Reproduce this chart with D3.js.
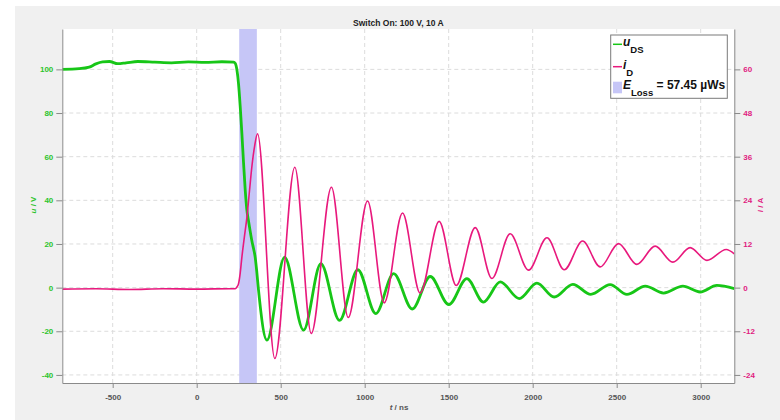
<!DOCTYPE html>
<html>
<head>
<meta charset="utf-8">
<script src="https://cdn.jsdelivr.net/npm/d3@7"></script>
<style>
  html, body { margin: 0; padding: 0; background: #ffffff; }
  svg { display: block; font-family: "Liberation Sans", Arial, Helvetica, sans-serif; }
</style>
</head>
<body>
<svg id="chart" width="780" height="420"></svg>
<script>
// ---------- data ----------
const title = "Switch On: 100 V, 10 A";
const xTicks = [-500, 0, 500, 1000, 1500, 2000, 2500, 3000];
const uTicks = [-40, -20, 0, 20, 40, 60, 80, 100];
const iTicks = [-24, -12, 0, 12, 24, 36, 48, 60];
const xDomain = [-800, 3200];
const uDomain = [-43.7, 118.5];
const iDomain = [-26.22, 71.1];
const lossWindow = [253, 358];      // ns
const lossText = "= 57.45 µWs";

// u_DS (V) vs t (ns)
const uTime = [-800, -700, -640, -600, -560, -520, -470, -420, -350, -250, -150, -50, 50, 150, 220, 229, 240, 249, 259, 269, 279, 289, 298, 308, 318, 328, 338, 348, 358, 368, 418,
  523, 636, 739, 850, 959, 1066, 1172, 1283, 1390, 1501, 1608, 1707, 1807, 1920, 2025, 2128, 2239, 2346, 2461, 2561, 2670, 2779, 2894, 2997, 3096, 3200];
const uValue = [100.0, 100.3, 101.0, 102.5, 103.4, 103.6, 102.6, 103.0, 103.6, 103.3, 103.0, 103.4, 103.2, 103.5, 103.3, 102.8, 99.5, 93.4, 83.0, 70.5, 57.0, 44.5, 36.0, 30.8, 26.0, 21.6, 18.0, 14.0, 7.0, -1.2, -24.1,
  14.0, -19.5, 11.0, -15.0, 8.2, -11.9, 6.4, -9.8, 5.1, -7.8, 4.1, -6.6, 2.6, -5.0, 2.1, -4.3, 1.5, -3.1, 1.4, -3.1, 0.7, -2.5, 0.7, -2.0, 1.0, -0.5];

// i_D (A) vs t (ns)
const iTime = [-800, -600, -400, -200, 0, 200, 229, 240, 249, 259, 269, 284, 299, 314, 328, 345, 362,
  465, 584, 682, 802, 902, 1017, 1116, 1225, 1330, 1443, 1545, 1658, 1757, 1866, 1975, 2085, 2188, 2297, 2402, 2511, 2620, 2729, 2834, 2937, 3037, 3152, 3200];
const iValue = [-0.4, -0.3, -0.5, -0.3, -0.4, -0.3, -0.3, 0.2, 1.1, 4.0, 8.4, 14.0, 19.4, 26.5, 33.1, 39.0, 42.3,
  -19.5, 33.1, -12.6, 27.6, -8.2, 23.8, -4.2, 20.5, -1.5, 18.2, 0.6, 16.5, 2.5, 14.8, 4.8, 13.7, 4.9, 12.8, 5.7, 12.1, 6.4, 11.4, 7.0, 11.0, 7.5, 10.5, 9.3];

// ---------- layout ----------
const svg = d3.select("#chart");
const L = 62.3, R = 734.3, T = 29, B = 383;
const green = "#17c617", pink = "#e8197d";
const greenTxt = "#2cc42c", pinkTxt = "#e0207f";
const shade = "#c6c6f7";

svg.append("rect").attr("x", 15).attr("y", 6).attr("width", 765).attr("height", 414).attr("fill", "#f0f0f0");
svg.append("rect").attr("x", L).attr("y", T).attr("width", R - L).attr("height", B - T).attr("fill", "#ffffff");

const x = d3.scaleLinear().domain(xDomain).range([L, R]);
const yU = d3.scaleLinear().domain(uDomain).range([B, T]);
const yI = d3.scaleLinear().domain(iDomain).range([B, T]);

// grid
const grid = svg.append("g").attr("stroke", "#dcdcdc").attr("stroke-width", 1).attr("stroke-dasharray", "4,3");
grid.selectAll("line.gx").data(xTicks).join("line").attr("class", "gx")
  .attr("x1", d => x(d)).attr("x2", d => x(d)).attr("y1", T).attr("y2", B);
grid.selectAll("line.gy").data(uTicks).join("line").attr("class", "gy")
  .attr("x1", L).attr("x2", R).attr("y1", d => yU(d)).attr("y2", d => yU(d));

// loss window
svg.append("rect").attr("x", x(lossWindow[0])).attr("y", T)
  .attr("width", x(lossWindow[1]) - x(lossWindow[0])).attr("height", B - T).attr("fill", shade);

// clip
svg.append("clipPath").attr("id", "clip").append("rect").attr("x", L).attr("y", T).attr("width", R - L).attr("height", B - T);

const uData = uTime.map((t, k) => [t, uValue[k]]);
const iData = iTime.map((t, k) => [t, iValue[k]]);

const lineU = d3.line().x(d => x(d[0])).y(d => yU(d[1])).curve(d3.curveMonotoneX);
const lineI = d3.line().x(d => x(d[0])).y(d => yI(d[1])).curve(d3.curveMonotoneX);

const plot = svg.append("g").attr("clip-path", "url(#clip)");
plot.append("path").datum(uData).attr("d", lineU).attr("fill", "none").attr("stroke", green).attr("stroke-width", 2.8).attr("stroke-linejoin", "round");
plot.append("path").datum(iData).attr("d", lineI).attr("fill", "none").attr("stroke", pink).attr("stroke-width", 1.6).attr("stroke-linejoin", "round");

// axes
const axisColor = "#8a8a8a";
const fmt = d => String(d);
function styleAxis(g, color) {
  g.select(".domain").attr("stroke", axisColor);
  g.selectAll(".tick line").attr("stroke", axisColor);
  g.selectAll(".tick text").attr("fill", color).attr("font-size", 8).attr("font-weight", "bold")
    .attr("font-family", "'Liberation Sans', Arial, sans-serif");
}
const gx = svg.append("g").attr("transform", `translate(0,${B})`)
  .call(d3.axisBottom(x).tickValues(xTicks).tickFormat(fmt).tickSize(5).tickSizeOuter(0).tickPadding(6));
styleAxis(gx, "#555555");
const gl = svg.append("g").attr("transform", `translate(${L},0)`)
  .call(d3.axisLeft(yU).tickValues(uTicks).tickFormat(fmt).tickSize(6).tickSizeOuter(0).tickPadding(3));
styleAxis(gl, greenTxt);
const gr = svg.append("g").attr("transform", `translate(${R},0)`)
  .call(d3.axisRight(yI).tickValues(iTicks).tickFormat(fmt).tickSize(6).tickSizeOuter(0).tickPadding(3));
styleAxis(gr, pinkTxt);

// labels
svg.append("text").attr("x", (L + R) / 2).attr("y", 26).attr("text-anchor", "middle")
  .attr("font-size", 8.5).attr("font-weight", "bold").attr("fill", "#222").text(title);

const xl = svg.append("text").attr("x", 399).attr("y", 410).attr("text-anchor", "middle")
  .attr("font-size", 8).attr("font-weight", "bold").attr("fill", "#555");
xl.append("tspan").attr("font-style", "italic").text("t");
xl.append("tspan").text(" / ns");

const ylab = svg.append("text").attr("transform", "translate(36,205) rotate(-90)").attr("text-anchor", "middle")
  .attr("font-size", 8).attr("font-weight", "bold").attr("fill", greenTxt);
ylab.append("tspan").attr("font-style", "italic").text("u");
ylab.append("tspan").text(" / V");

const ylab2 = svg.append("text").attr("transform", "translate(763,205) rotate(-90)").attr("text-anchor", "middle")
  .attr("font-size", 8).attr("font-weight", "bold").attr("fill", pinkTxt);
ylab2.append("tspan").attr("font-style", "italic").text("i");
ylab2.append("tspan").text(" / A");

// legend
const lg = svg.append("g");
lg.append("rect").attr("x", 610.7).attr("y", 35).attr("width", 116.6).attr("height", 63.3)
  .attr("fill", "#ffffff").attr("stroke", "#7a7a7a").attr("stroke-width", 1);
lg.append("line").attr("x1", 613).attr("x2", 622).attr("y1", 44.3).attr("y2", 44.3).attr("stroke", green).attr("stroke-width", 1.5);
lg.append("line").attr("x1", 613).attr("x2", 622).attr("y1", 66.7).attr("y2", 66.7).attr("stroke", pink).attr("stroke-width", 1.5);
lg.append("rect").attr("x", 613).attr("y", 81.7).attr("width", 9).attr("height", 11.6).attr("fill", shade);

function legendText(y, main, sub, rest) {
  const t = lg.append("text").attr("x", 623).attr("y", y).attr("font-size", 12).attr("font-weight", "bold").attr("fill", "#111");
  t.append("tspan").attr("font-style", "italic").text(main);
  t.append("tspan").attr("font-size", 9.5).attr("dy", 7).text(sub);
  if (rest) t.append("tspan").attr("dy", -7).text(" " + rest);
}
legendText(46, "u", "DS", null);
legendText(69, "i", "D", null);
legendText(89, "E", "Loss", lossText);
</script>
</body>
</html>
